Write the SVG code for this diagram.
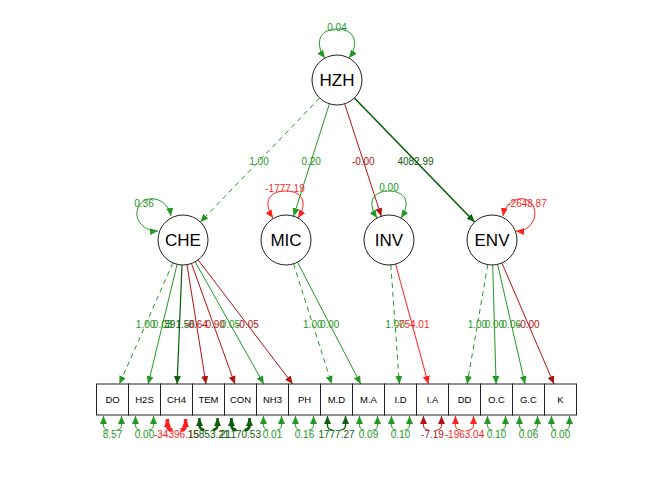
<svg xmlns="http://www.w3.org/2000/svg" width="672" height="480" viewBox="0 0 672 480">
<defs>
<style>
text{font-family:"Liberation Sans",Arial,sans-serif;text-anchor:middle}
.lat{fill:#fff;stroke:#222;stroke-width:1}
.box{fill:#fff;stroke:#222;stroke-width:1}
.nl{font-size:17px;fill:#000}
.bl{font-size:9.5px;fill:#000}
.el{font-size:10px}
.e{fill:none;stroke-width:1}
.g{stroke:#229922}.dg{stroke:#0b5e0b}.r{stroke:#ff1f1f}.dr{stroke:#b51111}
.tg{fill:#229922}.tdg{fill:#0b5e0b}.tr{fill:#ff1f1f}.tdr{fill:#b51111}
.d{stroke-dasharray:5,4}
</style>
<marker id="ag" markerUnits="userSpaceOnUse" markerWidth="9" markerHeight="8" refX="8" refY="3.5" orient="auto-start-reverse"><path d="M0,0 L8,3.5 L0,7 z" fill="#229922"/></marker>
<marker id="adg" markerUnits="userSpaceOnUse" markerWidth="9" markerHeight="8" refX="8" refY="3.5" orient="auto-start-reverse"><path d="M0,0 L8,3.5 L0,7 z" fill="#0b5e0b"/></marker>
<marker id="ar" markerUnits="userSpaceOnUse" markerWidth="9" markerHeight="8" refX="8" refY="3.5" orient="auto-start-reverse"><path d="M0,0 L8,3.5 L0,7 z" fill="#ff1f1f"/></marker>
<marker id="adr" markerUnits="userSpaceOnUse" markerWidth="9" markerHeight="8" refX="8" refY="3.5" orient="auto-start-reverse"><path d="M0,0 L8,3.5 L0,7 z" fill="#b51111"/></marker>
</defs>
<rect width="672" height="480" fill="#fff"/>

<g id="connectors">
<!-- HZH to latents -->
<line class="e g d" x1="319.7" y1="98" x2="200.3" y2="222" marker-end="url(#ag)"/>
<line class="e g" x1="329.4" y1="103.8" x2="293.6" y2="216.2" marker-end="url(#ag)"/>
<line class="e dr" x1="344.7" y1="103.8" x2="381.3" y2="216.2" marker-end="url(#adr)"/>
<line class="e dg" style="stroke-width:1.6" x1="354.4" y1="98" x2="474.6" y2="222" marker-end="url(#adg)"/>
<text class="el tg" x="259" y="164.5">1.00</text>
<text class="el tg" x="311.2" y="164.5">0.20</text>
<text class="el tdr" x="363.3" y="164.5">-0.00</text>
<text class="el tdg" x="415.5" y="164.5">4082.99</text>

<!-- latent self loops -->
<path class="e g" d="M325,58 C315,45 318,29 337,29 C356,29 359,45 349,58" marker-start="url(#ag)" marker-end="url(#ag)"/>
<text class="el tg" x="337" y="31">0.04</text>
<path class="e g" d="M171,216 C168,198 145,192 138,208 C133,220 145,232 158,231" marker-start="url(#ag)" marker-end="url(#ag)"/>
<text class="el tg" x="144" y="207">0.36</text>
<path class="e r" d="M273,218 C262,201 270,191 285.5,191 C301,191 309,201 298,218" marker-start="url(#ar)" marker-end="url(#ar)"/>
<text class="el tr" x="285" y="191.5">-1777.19</text>
<path class="e g" d="M377,218 C366,201 374,191 389,191 C404,191 412,201 401,218" marker-start="url(#ag)" marker-end="url(#ag)"/>
<text class="el tg" x="389" y="191">0.00</text>
<path class="e r" d="M503,216 C506,198 528,192 534,208 C538,220 528,232 516,231" marker-start="url(#ar)" marker-end="url(#ar)"/>
<text class="el tr" x="527" y="206.5">-2648.87</text>

<!-- CHE loadings -->
<line class="e g d" x1="172.9" y1="262.9" x2="119.4" y2="384" marker-end="url(#ag)"/>
<line class="e g" x1="177.1" y1="264.3" x2="148.2" y2="384" marker-end="url(#ag)"/>
<line class="e dg" style="stroke-width:1.2" x1="182" y1="265" x2="177.1" y2="384" marker-end="url(#adg)"/>
<line class="e dr" x1="187" y1="264.7" x2="206" y2="384" marker-end="url(#adr)"/>
<line class="e dr" x1="191.5" y1="263.5" x2="234.9" y2="384" marker-end="url(#adr)"/>
<line class="e g" x1="195.2" y1="261.8" x2="263.8" y2="384" marker-end="url(#ag)"/>
<line class="e dr" x1="198.1" y1="259.9" x2="292.7" y2="384" marker-end="url(#adr)"/>
<text class="el tg" x="145.6" y="328">1.00</text>
<text class="el tg" x="162.6" y="328">0.03</text>
<text class="el tdg" x="179.6" y="328">391.56</text>
<text class="el tdr" x="196.5" y="328">-0.64</text>
<text class="el tdr" x="213.5" y="328">-0.90</text>
<text class="el tg" x="230.4" y="328">0.05</text>
<text class="el tdr" x="247.4" y="328">-0.05</text>

<!-- MIC loadings -->
<line class="e g d" x1="293.5" y1="263.8" x2="331.7" y2="384" marker-end="url(#ag)"/>
<line class="e g" x1="297.5" y1="262.2" x2="360.7" y2="384" marker-end="url(#ag)"/>
<text class="el tg" x="312.8" y="328">1.00</text>
<text class="el tg" x="329.7" y="328">0.00</text>

<!-- INV loadings -->
<line class="e g d" x1="390.8" y1="264.9" x2="399.4" y2="384" marker-end="url(#ag)"/>
<line class="e r" x1="395.6" y1="264.1" x2="428.4" y2="384" marker-end="url(#ar)"/>
<text class="el tg" x="395.1" y="328">1.00</text>
<text class="el tr" x="412.5" y="328">-754.01</text>

<!-- ENV loadings -->
<line class="e g d" x1="487.8" y1="264.6" x2="467.1" y2="384" marker-end="url(#ag)"/>
<line class="e g" x1="492.7" y1="265" x2="496.1" y2="384" marker-end="url(#ag)"/>
<line class="e g" x1="497.6" y1="264.4" x2="525" y2="384" marker-end="url(#ag)"/>
<line class="e dr" x1="501.9" y1="263" x2="554" y2="384" marker-end="url(#adr)"/>
<text class="el tg" x="477.4" y="328">1.00</text>
<text class="el tg" x="494.4" y="328">0.00</text>
<text class="el tg" x="511.3" y="328">0.06</text>
<text class="el tdr" x="528.3" y="328">-0.00</text>

<!-- residual loops -->
<g id="residuals">
<path class="e g" d="M108.5,430 C101.5,430 103.5,422 103.5,416" marker-end="url(#ag)"/><path class="e g" d="M116.5,430 C123.5,430 121.5,422 121.5,416" marker-end="url(#ag)"/>
<path class="e g" d="M140.5,430 C133.5,430 135.5,422 135.5,416" marker-end="url(#ag)"/><path class="e g" d="M148.5,430 C155.5,430 153.5,422 153.5,416" marker-end="url(#ag)"/>
<path class="e r" style="stroke-width:3.5" d="M172.5,430 C165.5,430 167.5,422 167.5,419" marker-end="url(#ar)"/><path class="e r" style="stroke-width:3.5" d="M180.5,430 C187.5,430 185.5,422 185.5,419" marker-end="url(#ar)"/>
<path class="e dg" style="stroke-width:2.5" d="M204.5,430 C197.5,430 199.5,422 199.5,418" marker-end="url(#adg)"/><path class="e dg" style="stroke-width:2.5" d="M212.5,430 C219.5,430 217.5,422 217.5,418" marker-end="url(#adg)"/>
<path class="e dg" style="stroke-width:2.8" d="M236.5,430 C229.5,430 231.5,422 231.5,418" marker-end="url(#adg)"/><path class="e dg" style="stroke-width:2.8" d="M244.5,430 C251.5,430 249.5,422 249.5,418" marker-end="url(#adg)"/>
<path class="e g" d="M268.5,430 C261.5,430 263.5,422 263.5,416" marker-end="url(#ag)"/><path class="e g" d="M276.5,430 C283.5,430 281.5,422 281.5,416" marker-end="url(#ag)"/>
<path class="e g" d="M300.5,430 C293.5,430 295.5,422 295.5,416" marker-end="url(#ag)"/><path class="e g" d="M308.5,430 C315.5,430 313.5,422 313.5,416" marker-end="url(#ag)"/>
<path class="e dg" style="stroke-width:1.4" d="M332.5,430 C325.5,430 327.5,422 327.5,416" marker-end="url(#adg)"/><path class="e dg" style="stroke-width:1.4" d="M340.5,430 C347.5,430 345.5,422 345.5,416" marker-end="url(#adg)"/>
<path class="e g" d="M364.5,430 C357.5,430 359.5,422 359.5,416" marker-end="url(#ag)"/><path class="e g" d="M372.5,430 C379.5,430 377.5,422 377.5,416" marker-end="url(#ag)"/>
<path class="e g" d="M396.5,430 C389.5,430 391.5,422 391.5,416" marker-end="url(#ag)"/><path class="e g" d="M404.5,430 C411.5,430 409.5,422 409.5,416" marker-end="url(#ag)"/>
<path class="e dr" d="M428.5,430 C421.5,430 423.5,422 423.5,416" marker-end="url(#adr)"/><path class="e dr" d="M436.5,430 C443.5,430 441.5,422 441.5,416" marker-end="url(#adr)"/>
<path class="e r" d="M460.5,430 C453.5,430 455.5,422 455.5,416" marker-end="url(#ar)"/><path class="e r" d="M468.5,430 C475.5,430 473.5,422 473.5,416" marker-end="url(#ar)"/>
<path class="e g" d="M492.5,430 C485.5,430 487.5,422 487.5,416" marker-end="url(#ag)"/><path class="e g" d="M500.5,430 C507.5,430 505.5,422 505.5,416" marker-end="url(#ag)"/>
<path class="e g" d="M524.5,430 C517.5,430 519.5,422 519.5,416" marker-end="url(#ag)"/><path class="e g" d="M532.5,430 C539.5,430 537.5,422 537.5,416" marker-end="url(#ag)"/>
<path class="e g" d="M556.5,430 C549.5,430 551.5,422 551.5,416" marker-end="url(#ag)"/><path class="e g" d="M564.5,430 C571.5,430 569.5,422 569.5,416" marker-end="url(#ag)"/>
</g>
<text class="el tg" x="112.5" y="438">8.57</text>
<text class="el tg" x="144.5" y="438">0.00</text>
<text class="el tr" x="176.5" y="438">-34396.15</text>
<text class="el tdg" x="208.5" y="438">15853.21</text>
<text class="el tdg" x="240.5" y="438">21170.53</text>
<text class="el tg" x="272.5" y="438">0.01</text>
<text class="el tg" x="304.5" y="438">0.16</text>
<text class="el tdg" x="336.5" y="438">1777.27</text>
<text class="el tg" x="368.5" y="438">0.09</text>
<text class="el tg" x="400.5" y="438">0.10</text>
<text class="el tdr" x="432.5" y="438">-7.19</text>
<text class="el tr" x="464.5" y="438">-1963.04</text>
<text class="el tg" x="496.5" y="438">0.10</text>
<text class="el tg" x="528.5" y="438">0.06</text>
<text class="el tg" x="560.5" y="438">0.00</text>
</g>

<g id="HZH"><circle class="lat" cx="337" cy="80" r="25"/><text class="nl" x="337" y="86">HZH</text></g>
<g id="CHE"><circle class="lat" cx="183" cy="240" r="25"/><text class="nl" x="183" y="246">CHE</text></g>
<g id="MIC"><circle class="lat" cx="286" cy="240" r="25"/><text class="nl" x="286" y="246">MIC</text></g>
<g id="INV"><circle class="lat" cx="389" cy="240" r="25"/><text class="nl" x="389" y="246">INV</text></g>
<g id="ENV"><circle class="lat" cx="492" cy="240" r="25"/><text class="nl" x="492" y="246">ENV</text></g>

<g id="DO"><rect class="box" x="96.5" y="384" width="32" height="31"/><text class="bl" x="112.5" y="403">DO</text></g>
<g id="H2S"><rect class="box" x="128.5" y="384" width="32" height="31"/><text class="bl" x="144.5" y="403">H2S</text></g>
<g id="CH4"><rect class="box" x="160.5" y="384" width="32" height="31"/><text class="bl" x="176.5" y="403">CH4</text></g>
<g id="TEM"><rect class="box" x="192.5" y="384" width="32" height="31"/><text class="bl" x="208.5" y="403">TEM</text></g>
<g id="CON"><rect class="box" x="224.5" y="384" width="32" height="31"/><text class="bl" x="240.5" y="403">CON</text></g>
<g id="NH3"><rect class="box" x="256.5" y="384" width="32" height="31"/><text class="bl" x="272.5" y="403">NH3</text></g>
<g id="PH"><rect class="box" x="288.5" y="384" width="32" height="31"/><text class="bl" x="304.5" y="403">PH</text></g>
<g id="M.D"><rect class="box" x="320.5" y="384" width="32" height="31"/><text class="bl" x="336.5" y="403">M.D</text></g>
<g id="M.A"><rect class="box" x="352.5" y="384" width="32" height="31"/><text class="bl" x="368.5" y="403">M.A</text></g>
<g id="I.D"><rect class="box" x="384.5" y="384" width="32" height="31"/><text class="bl" x="400.5" y="403">I.D</text></g>
<g id="I.A"><rect class="box" x="416.5" y="384" width="32" height="31"/><text class="bl" x="432.5" y="403">I.A</text></g>
<g id="DD"><rect class="box" x="448.5" y="384" width="32" height="31"/><text class="bl" x="464.5" y="403">DD</text></g>
<g id="O.C"><rect class="box" x="480.5" y="384" width="32" height="31"/><text class="bl" x="496.5" y="403">O.C</text></g>
<g id="G.C"><rect class="box" x="512.5" y="384" width="32" height="31"/><text class="bl" x="528.5" y="403">G.C</text></g>
<g id="K"><rect class="box" x="544.5" y="384" width="32" height="31"/><text class="bl" x="560.5" y="403">K</text></g>
</svg>
